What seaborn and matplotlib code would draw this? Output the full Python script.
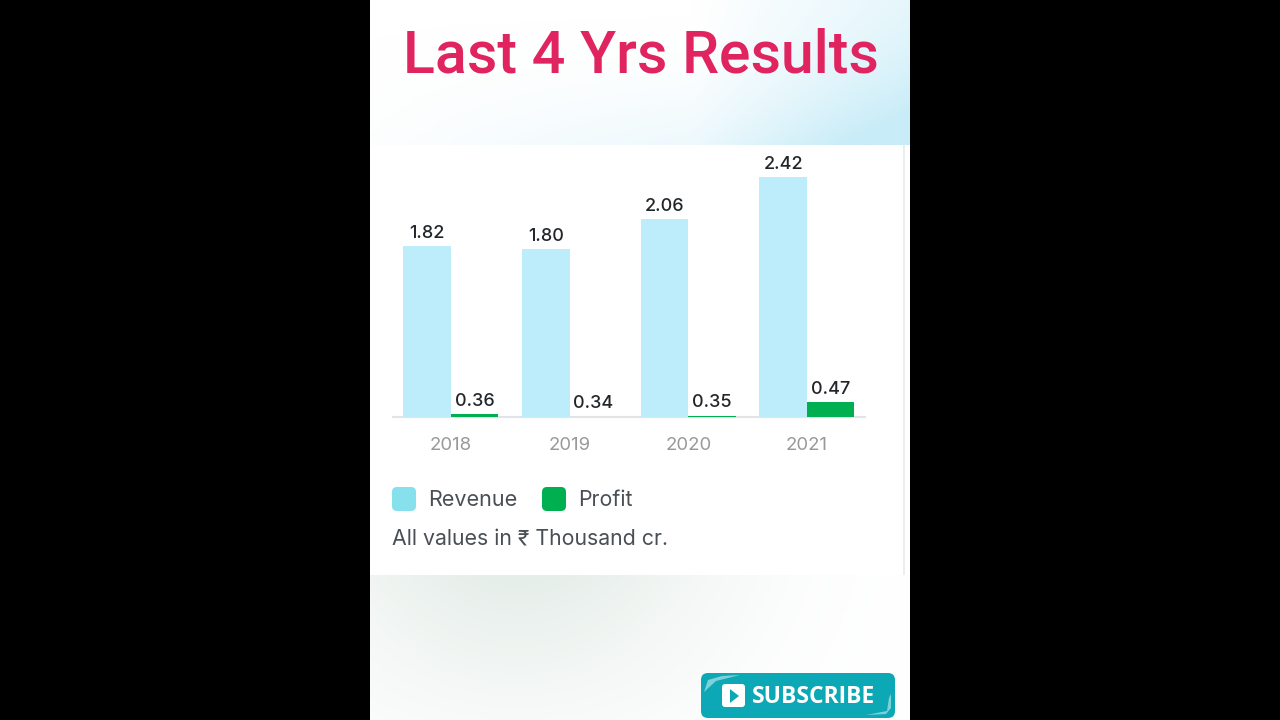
import numpy as np
import pandas as pd
import seaborn as sns
from matplotlib import pyplot as plt
from matplotlib.colors import LinearSegmentedColormap
from matplotlib.patches import FancyBboxPatch, Polygon, Rectangle

years = ['2018', '2019', '2020', '2021']
revenue = [1.82, 1.80, 2.06, 2.42]
profit = [0.36, 0.34, 0.35, 0.47]
revenue_labels = ['1.82', '1.80', '2.06', '2.42']
profit_labels = ['0.36', '0.34', '0.35', '0.47']

sns.set_theme(style='white')
plt.rcParams['font.family'] = ['Inter', 'DejaVu Sans']

df = pd.DataFrame({'year': years * 2,
                   'value': revenue + profit,
                   'kind': ['Revenue'] * 4 + ['Profit'] * 4})

fig = plt.figure(figsize=(12.8, 7.2), dpi=100, facecolor='black')

# page behind the chart, in pixels
bg = fig.add_axes([0, 0, 1, 1], zorder=0)

yy, xx = np.mgrid[0:1:60j, 0:1:100j]
top_shade = np.clip(xx - 0.6, 0, 1) * 1.9 * (0.6 + 0.4 * yy) + 0.45 * yy ** 2 * np.clip(xx + 0.1, 0, 1)
blue = LinearSegmentedColormap.from_list('b', ['#ffffff', '#c8ecf8'])
bg.imshow(top_shade, cmap=blue, vmin=0, vmax=1, extent=(370, 910, 145, 0), aspect='auto', zorder=1)

low_shade = np.exp(-((xx - 0.27) / 0.38) ** 2) * (1 - 0.7 * yy)
grey = LinearSegmentedColormap.from_list('g', ['#ffffff', '#e6eeea'])
bg.imshow(low_shade, cmap=grey, vmin=0, vmax=1, extent=(370, 910, 720, 575), aspect='auto', zorder=1)
bg.set_xlim(0, 1280)
bg.set_ylim(720, 0)
bg.axis('off')

bg.add_patch(Rectangle((370, 145), 540, 430, fc='#eceeee', ec='none', zorder=2))
bg.add_patch(Rectangle((370, 145), 533, 430, fc='white', ec='none', zorder=3))
bg.add_patch(Rectangle((905, 145), 5, 430, fc='white', ec='none', zorder=3))

bg.text(640.5, 56, 'Last 4 Yrs Results', color='#e0245f', fontsize=42.5, fontweight='medium',
        family='Roboto', ha='center', va='center', zorder=5)

# legend
bg.add_patch(FancyBboxPatch((395, 490), 18, 18, boxstyle='round,pad=3,rounding_size=5',
                            fc='#86e1ec', ec='none', zorder=5))
bg.add_patch(FancyBboxPatch((545, 490), 18, 18, boxstyle='round,pad=3,rounding_size=5',
                            fc='#00b050', ec='none', zorder=5))
bg.text(428, 499.5, 'Revenue', color='#4a4f55', fontsize=15.5, va='center', zorder=5)
bg.text(578, 499.5, 'Profit', color='#4a4f55', fontsize=15.3, va='center', zorder=5)
bg.text(392, 539, 'All values in ₹ Thousand cr.', color='#4a4f55', fontsize=15.35, va='center', zorder=5)

# subscribe button
bg.add_patch(FancyBboxPatch((705, 677), 186, 37, boxstyle='round,pad=4,rounding_size=7',
                            fc='#0ca8b6', ec='none', zorder=5))
bg.add_patch(Polygon([(704, 692), (708, 680), (722, 676), (740, 675), (716, 681)],
                     fc='#7fd0d8', ec='none', zorder=6))
bg.add_patch(Polygon([(887, 711), (889, 698), (891, 694), (891, 708), (886, 714), (866, 715)],
                     fc='#7fd0d8', ec='none', zorder=6))
bg.add_patch(FancyBboxPatch((724, 686), 19, 19, boxstyle='round,pad=2,rounding_size=3',
                            fc='white', ec='none', zorder=6))
bg.add_patch(Polygon([(730, 689), (730, 703), (739, 696)], fc='#0ca8b6', ec='none', zorder=7))
bg.text(813.5, 697, 'SUBSCRIBE', color='white', fontsize=16.5, fontweight='bold', family='Open Sans',
        ha='center', va='center', zorder=6)

# chart: the baseline sits near the smallest value, as in the source
base = 0.337
px_per_unit = 115
ax = fig.add_axes([391.6 / 1280, 1 - 417 / 720, (866.3 - 391.6) / 1280, 272 / 720], zorder=3)
ax.patch.set_alpha(0)
sns.barplot(data=df, x='year', y='value', hue='kind', order=years, hue_order=['Revenue', 'Profit'],
            palette=['#bdedfb', '#00b050'], width=0.8, gap=0, saturation=1, legend=False,
            linewidth=0, ax=ax)
ax.set_ylim(base, base + 272 / px_per_unit)
ax.set_xlim(-0.5, 3.5)
ax.set_xlabel('')
ax.set_ylabel('')
ax.set_yticks([])
ax.tick_params(axis='x', length=0, pad=14.5, labelsize=13.4, labelcolor='#999999')
sns.despine(ax=ax, left=True)
ax.spines['bottom'].set_color('#e1e5e8')
ax.spines['bottom'].set_linewidth(1.5)
ax.spines['bottom'].set_zorder(0.5)
ax.spines['bottom'].set_capstyle('butt')

ax.bar_label(ax.containers[0], labels=revenue_labels, padding=3, fontsize=13, color='#22262a', fontweight='medium')
ax.bar_label(ax.containers[1], labels=profit_labels, padding=3, fontsize=13, color='#22262a', fontweight='medium')

fig.savefig('out.png', dpi=100, facecolor='black')
